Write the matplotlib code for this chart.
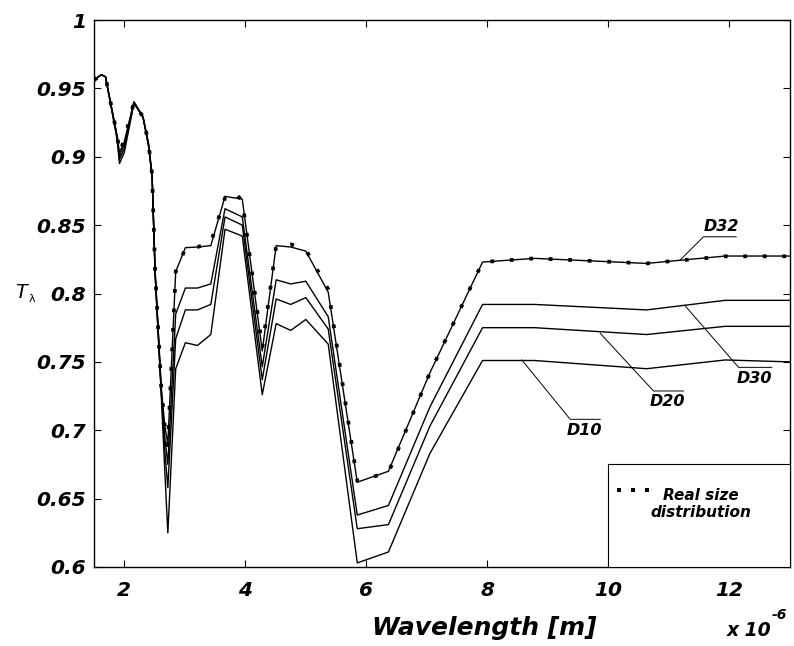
import matplotlib
matplotlib.use("Agg")
import matplotlib.pyplot as plt
from matplotlib.ticker import FuncFormatter, FixedLocator
from matplotlib.patches import Rectangle
from matplotlib.lines import Line2D

# ---- data (wavelength in micrometres, transmittance) ----
lam = [1.50, 1.62, 1.69, 1.885, 1.92, 2.00, 2.16, 2.31, 2.40, 2.46, 2.51, 2.61, 2.67, 2.72,
       2.85, 3.01, 3.21, 3.43, 3.665, 3.95, 4.28, 4.51, 4.75, 5.00, 5.37, 5.85, 6.365,
       7.05, 7.92, 8.78, 10.63, 11.93, 13.0]

d32 = [0.956, 0.960, 0.9585, 0.915, 0.903, 0.911, 0.940, 0.929, 0.910, 0.887, 0.817, 0.732, 0.703, 0.690,
       0.816, 0.8335, 0.834, 0.835, 0.871, 0.869, 0.758, 0.835, 0.834, 0.831, 0.801, 0.662, 0.670,
       0.742, 0.823, 0.8257, 0.822, 0.8274, 0.8274]
d30 = [0.956, 0.960, 0.9585, 0.914, 0.900, 0.909, 0.940, 0.929, 0.909, 0.886, 0.815, 0.730, 0.695, 0.675,
       0.785, 0.804, 0.804, 0.807, 0.862, 0.856, 0.7465, 0.810, 0.807, 0.809, 0.783, 0.638, 0.645,
       0.717, 0.792, 0.792, 0.788, 0.795, 0.795]
d20 = [0.956, 0.960, 0.9585, 0.913, 0.898, 0.906, 0.940, 0.929, 0.909, 0.886, 0.815, 0.729, 0.685, 0.658,
       0.767, 0.788, 0.788, 0.792, 0.856, 0.850, 0.737, 0.796, 0.792, 0.797, 0.774, 0.628, 0.631,
       0.703, 0.775, 0.775, 0.770, 0.776, 0.776]
d10 = [0.956, 0.960, 0.9585, 0.912, 0.895, 0.903, 0.939, 0.929, 0.908, 0.885, 0.814, 0.727, 0.670, 0.625,
       0.745, 0.764, 0.762, 0.770, 0.847, 0.842, 0.726, 0.778, 0.773, 0.781, 0.763, 0.603, 0.611,
       0.683, 0.751, 0.751, 0.745, 0.7514, 0.750]

lam_real = [1.50, 1.62, 1.69, 1.885, 1.92, 2.00, 2.16, 2.31, 2.40, 2.46, 2.51, 2.61, 2.67, 2.72,
            2.85, 3.01, 3.21, 3.43, 3.665, 3.80, 3.95, 4.28, 4.51, 4.75, 5.00, 5.37, 5.85, 6.365,
            7.05, 7.92, 8.78, 10.63, 11.93, 13.0]
real = [0.956, 0.960, 0.9585, 0.915, 0.903, 0.912, 0.940, 0.929, 0.910, 0.887, 0.817, 0.732, 0.703, 0.689,
        0.816, 0.833, 0.834, 0.837, 0.870, 0.8745, 0.868, 0.760, 0.835, 0.836, 0.832, 0.803, 0.663, 0.669,
        0.742, 0.823, 0.8257, 0.822, 0.8272, 0.8272]

xticks = [2, 4, 6, 8, 10, 12]
yticks = [0.6, 0.65, 0.7, 0.75, 0.8, 0.85, 0.9, 0.95, 1.0]

series_labels = ["D32", "D30", "D20", "D10"]

FONT = "DejaVu Sans"
BI = dict(fontweight="bold", fontstyle="italic", family=FONT)

fig = plt.figure(figsize=(7.94, 6.46), dpi=100)
W, H = 794, 646
ax = fig.add_axes([94 / W, 79 / H, 696 / W, 547 / H])

for s in (d32, d30, d20, d10):
    ax.plot(lam, s, color="black", lw=1.0)

ax.plot(lam_real, real, color="black", lw=2.7, linestyle=(0, (1, 4.2)),
        dash_capstyle="butt")

ax.set_xlim(1.5, 13)
ax.set_ylim(0.6, 1.0)
ax.xaxis.set_major_locator(FixedLocator(xticks))
ax.yaxis.set_major_locator(FixedLocator(yticks))
ax.xaxis.set_major_formatter(FuncFormatter(lambda v, p: "%g" % v))
ax.yaxis.set_major_formatter(FuncFormatter(lambda v, p: "%g" % round(v, 2)))
ax.tick_params(direction="in", length=5, width=0.8, top=True, right=True,
               labelsize=14.5)
ax.tick_params(axis="x", pad=10)
ax.tick_params(axis="y", pad=6)
for lab in ax.get_xticklabels() + ax.get_yticklabels():
    lab.set_fontfamily(FONT)
    lab.set_fontweight("bold")
    lab.set_fontstyle("italic")
for sp in ax.spines.values():
    sp.set_linewidth(1.0)

# curve labels with leader lines: (anchor on curve), (underline x0, x1, y), text above?
lab_geo = {
    "D32": ((11.186, 0.8245), (11.571, 12.11, 0.8415), True),
    "D30": ((11.269, 0.7909), (12.15, 12.70, 0.746), False),
    "D20": ((9.864, 0.7709), (10.745, 11.24, 0.7287), False),
    "D10": ((8.569, 0.7514), (9.368, 9.864, 0.708), False),
}
for name in series_labels:
    (ax0, ay0), (ux0, ux1, uy), above = lab_geo[name]
    ax.add_line(Line2D([ax0, ux0, ux1], [ay0, uy, uy], color="black", lw=0.7))
    if above:
        ax.text((ux0 + ux1) / 2 + 0.03, uy + 0.002, name, ha="center", va="bottom",
                fontsize=11.5, **BI)
    else:
        ax.text((ux0 + ux1) / 2 - 0.02, uy - 0.0025, name, ha="center", va="top",
                fontsize=11.5, **BI)

# legend box
lx0 = (10 - 1.5) / 11.5
ax.add_patch(Rectangle((lx0, 0.0), 1 - lx0, 0.188, transform=ax.transAxes,
                       facecolor="white", edgecolor="black", lw=0.8, zorder=5))
ax.add_line(Line2D([0.755, 0.775, 0.795], [0.141, 0.141, 0.141], transform=ax.transAxes,
                   color="black", lw=0, marker="s", markersize=2.6,
                   markerfacecolor="black", markeredgewidth=0, zorder=6))
ax.text(0.872, 0.115, "Real size\ndistribution", transform=ax.transAxes,
        ha="center", va="center", multialignment="center", fontsize=11,
        zorder=6, linespacing=1.15, **BI)

# axis labels
fig.text(484 / W, 1 - 628 / H, "Wavelength [m]", ha="center", va="center",
         fontsize=18, **BI)
fig.text(771 / W, 1 - 630 / H, "x 10", ha="right", va="center",
         fontsize=13.5, **BI)
fig.text(772 / W, 1 - 615 / H, "-6", ha="left", va="center",
         fontsize=10, **BI)
fig.text(14 / W, 1 - 292 / H, "T", ha="left", va="center",
         fontsize=15, fontstyle="italic", family="Liberation Sans")
fig.text(29 / W, 1 - 299 / H, "λ", ha="left", va="center",
         fontsize=8, family="DejaVu Sans")

fig.savefig("out.png", dpi=100)
